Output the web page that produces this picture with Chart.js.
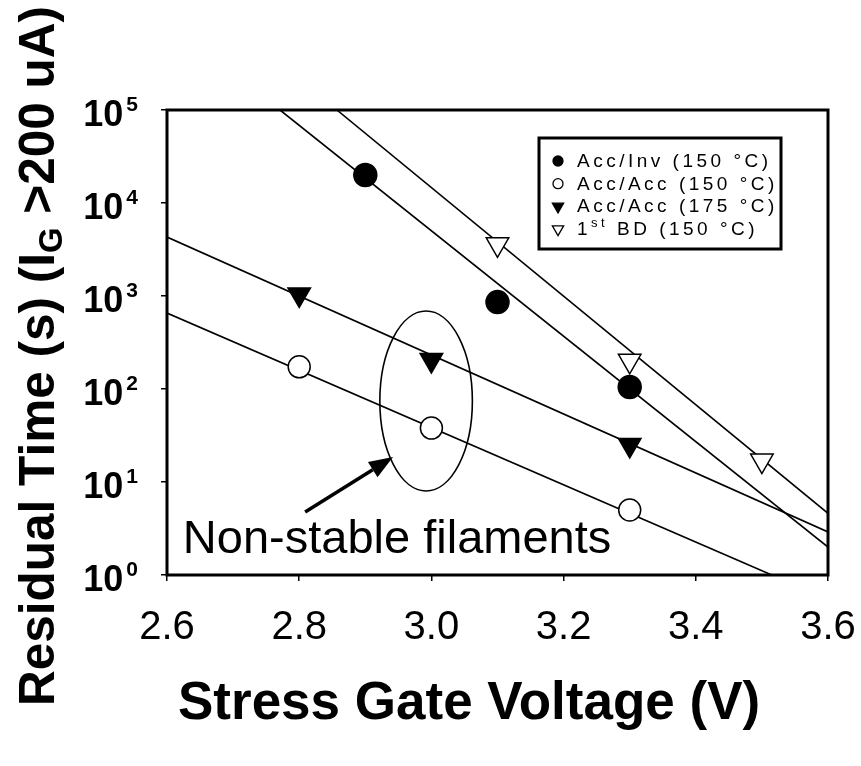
<!DOCTYPE html>
<html>
<head>
<meta charset="utf-8">
<script src="https://cdn.jsdelivr.net/npm/chart.js@4/dist/chart.umd.min.js"></script>
<style>
  html, body { margin: 0; padding: 0; background: #ffffff; }
  canvas { display: block; }
</style>
</head>
<body>
<canvas id="chart" width="861" height="766"></canvas>
<script>
// Residual time (s) versus stress gate voltage (V) for each stress condition
const accInvVolts = [2.9, 3.1, 3.3];
const accInvTimes = [20000, 860, 105];

const accAcc150Volts = [2.8, 3.0, 3.3];
const accAcc150Times = [173, 38, 5];

const accAcc175Volts = [2.8, 3.0, 3.3];
const accAcc175Times = [1040, 205, 25];

const firstBdVolts = [3.1, 3.3, 3.5];
const firstBdTimes = [3600, 201, 17];

// End points of the straight-line fits on the log axis
const fitAccInvVolts = [2.771, 3.6];
const fitAccInvTimes = [100000, 2.0];

const fitAccAcc150Volts = [2.6, 3.515];
const fitAccAcc150Times = [656, 1];

const fitAccAcc175Volts = [2.6, 3.6];
const fitAccAcc175Times = [4300, 2.9];

const fitFirstBdVolts = [2.857, 3.6];
const fitFirstBdTimes = [100000, 4.6];

// Axis ticks
const xTickLabels = ['2.6', '2.8', '3.0', '3.2', '3.4', '3.6'];
const yTickValues = [1, 10, 100, 1000, 10000, 100000];
const yTickExponents = ['0', '1', '2', '3', '4', '5'];

// Legend entries
const seriesNames = ['Acc/Inv (150 °C)', 'Acc/Acc (150 °C)', 'Acc/Acc (175 °C)', '1st BD (150 °C)'];

// Callout around the 3.0 V points (data units)
const calloutEllipse = { xMin: 2.922, xMax: 3.062, yMin: 8, yMax: 690 };
const calloutArrow = { fromX: 2.809, fromY: 4.75, toX: 2.942, toY: 18.6 };
const calloutText = { x: 2.624, y: 1.73, text: 'Non-stable filaments' };

const FONT = '"Liberation Sans", Arial, Helvetica, sans-serif';

const pairs = (xs, ys) => xs.map((v, i) => ({ x: v, y: ys[i] }));

const markerStyles = [
  { pointStyle: 'circle', radius: 11.5, fill: '#000', rot: 0 },
  { pointStyle: 'circle', radius: 11, fill: '#fff', rot: 0 },
  { pointStyle: 'triangle', radius: 13, fill: '#000', rot: 180 },
  { pointStyle: 'triangle', radius: 13, fill: '#fff', rot: 180 }
];

function pointSet(name, xs, ys, m) {
  return {
    label: name,
    data: pairs(xs, ys),
    showLine: false,
    pointStyle: m.pointStyle,
    pointRadius: m.radius,
    pointHoverRadius: m.radius,
    pointRotation: m.rot,
    pointBackgroundColor: m.fill,
    pointBorderColor: '#000',
    pointBorderWidth: 1.5,
    order: 1
  };
}

function fitSet(xs, ys) {
  return {
    label: '',
    data: pairs(xs, ys),
    showLine: true,
    borderColor: '#000',
    borderWidth: 1.6,
    pointRadius: 0,
    fill: false,
    order: 2
  };
}

function drawMarker(ctx, m, cx, cy, r) {
  ctx.beginPath();
  if (m.pointStyle === 'circle') {
    ctx.arc(cx, cy, r, 0, Math.PI * 2);
  } else {
    // downward pointing triangle
    ctx.moveTo(cx, cy + r);
    ctx.lineTo(cx - r * 0.866, cy - r * 0.5);
    ctx.lineTo(cx + r * 0.866, cy - r * 0.5);
    ctx.closePath();
  }
  ctx.fillStyle = m.fill;
  ctx.fill();
  ctx.lineWidth = 1.3;
  ctx.strokeStyle = '#000';
  ctx.stroke();
}

// Draws text pieces in sequence; pieces may be raised or lowered
function drawRuns(ctx, runs, x, y) {
  let cx = x;
  for (const r of runs) {
    ctx.font = r.font;
    ctx.fillText(r.text, cx, y + (r.dy || 0));
    cx += ctx.measureText(r.text).width;
  }
  return cx;
}

const decorations = {
  id: 'decorations',
  afterDraw(chart) {
    const { ctx, chartArea: a, scales } = chart;
    const xs = scales.x, ys = scales.y;
    ctx.save();

    // plot frame
    ctx.strokeStyle = '#000';
    ctx.lineWidth = 3;
    ctx.strokeRect(a.left, a.top, a.right - a.left, a.bottom - a.top);

    // y tick labels: 10 with superscript exponent
    ctx.fillStyle = '#000';
    ctx.textBaseline = 'alphabetic';
    ctx.textAlign = 'left';
    yTickValues.forEach((v, i) => {
      const py = ys.getPixelForValue(v);
      const base = 'bold 36px ' + FONT;
      const sup = 'bold 21px ' + FONT;
      ctx.font = base;
      const w1 = ctx.measureText('10').width;
      ctx.font = sup;
      const w2 = ctx.measureText(yTickExponents[i]).width;
      const right = a.left - 29;
      const left = right - w1 - 3 - w2;
      ctx.font = base;
      ctx.fillText('10', left, py + 16);
      ctx.font = sup;
      ctx.fillText(yTickExponents[i], left + w1 + 3, py + 1);
    });

    // y axis title, rotated, with subscript G
    ctx.save();
    ctx.translate(54, 706);
    ctx.rotate(-Math.PI / 2);
    const big = 'bold 49.5px ' + FONT;
    const small = 'bold 33px ' + FONT;
    drawRuns(ctx, [
      { text: 'Residual Time (s) (I', font: big },
      { text: 'G', font: small, dy: 8 },
      { text: ' >200 uA)', font: big }
    ], 0, 0);
    ctx.restore();

    // x axis title
    ctx.font = 'bold 53px ' + FONT;
    ctx.textAlign = 'left';
    ctx.fillText('Stress Gate Voltage (V)', 178, 719);

    // ellipse around the 3.0 V points
    const ex0 = xs.getPixelForValue(calloutEllipse.xMin);
    const ex1 = xs.getPixelForValue(calloutEllipse.xMax);
    const ey0 = ys.getPixelForValue(calloutEllipse.yMax);
    const ey1 = ys.getPixelForValue(calloutEllipse.yMin);
    ctx.beginPath();
    ctx.ellipse((ex0 + ex1) / 2, (ey0 + ey1) / 2, (ex1 - ex0) / 2, (ey1 - ey0) / 2, 0, 0, Math.PI * 2);
    ctx.lineWidth = 1.6;
    ctx.stroke();

    // arrow pointing at the ellipse
    const ax0 = xs.getPixelForValue(calloutArrow.fromX);
    const ay0 = ys.getPixelForValue(calloutArrow.fromY);
    const ax1 = xs.getPixelForValue(calloutArrow.toX);
    const ay1 = ys.getPixelForValue(calloutArrow.toY);
    const ang = Math.atan2(ay1 - ay0, ax1 - ax0);
    const headLen = 24, headHalf = 9;
    const bx = ax1 - Math.cos(ang) * headLen;
    const by = ay1 - Math.sin(ang) * headLen;
    ctx.beginPath();
    ctx.moveTo(ax0, ay0);
    ctx.lineTo(bx, by);
    ctx.lineWidth = 3.5;
    ctx.stroke();
    ctx.beginPath();
    ctx.moveTo(ax1, ay1);
    ctx.lineTo(bx + Math.sin(ang) * headHalf, by - Math.cos(ang) * headHalf);
    ctx.lineTo(bx - Math.sin(ang) * headHalf, by + Math.cos(ang) * headHalf);
    ctx.closePath();
    ctx.fill();

    // callout text
    ctx.font = '47px ' + FONT;
    ctx.textAlign = 'left';
    ctx.fillText(calloutText.text,
      xs.getPixelForValue(calloutText.x), ys.getPixelForValue(calloutText.y));

    // legend box
    const lx = 539, ly = 138, lw = 242, lh = 111;
    ctx.fillStyle = '#fff';
    ctx.fillRect(lx, ly, lw, lh);
    ctx.lineWidth = 3;
    ctx.strokeStyle = '#000';
    ctx.strokeRect(lx, ly, lw, lh);
    ctx.fillStyle = '#000';
    const legFont = '19px ' + FONT;
    const legSup = '13px ' + FONT;
    if ('letterSpacing' in ctx) ctx.letterSpacing = '3.5px';
    seriesNames.forEach((name, i) => {
      const base = 167 + i * 22.7;
      const m = markerStyles[i];
      drawMarker(ctx, m, 558, base - 6, m.pointStyle === 'circle' ? 5 : 6.5);
      ctx.fillStyle = '#000';
      if (name.startsWith('1st')) {
        drawRuns(ctx, [
          { text: '1', font: legFont },
          { text: 'st', font: legSup, dy: -8 },
          { text: name.slice(3), font: legFont }
        ], 577, base);
      } else {
        ctx.font = legFont;
        ctx.fillText(name, 577, base);
      }
    });
    if ('letterSpacing' in ctx) ctx.letterSpacing = '0px';

    ctx.restore();
  }
};

new Chart(document.getElementById('chart'), {
  type: 'scatter',
  data: {
    datasets: [
      pointSet(seriesNames[0], accInvVolts, accInvTimes, markerStyles[0]),
      pointSet(seriesNames[1], accAcc150Volts, accAcc150Times, markerStyles[1]),
      pointSet(seriesNames[2], accAcc175Volts, accAcc175Times, markerStyles[2]),
      pointSet(seriesNames[3], firstBdVolts, firstBdTimes, markerStyles[3]),
      fitSet(fitAccInvVolts, fitAccInvTimes),
      fitSet(fitAccAcc150Volts, fitAccAcc150Times),
      fitSet(fitAccAcc175Volts, fitAccAcc175Times),
      fitSet(fitFirstBdVolts, fitFirstBdTimes)
    ]
  },
  options: {
    responsive: false,
    animation: false,
    layout: { padding: { left: 161, top: 110, right: 33, bottom: 91 } },
    plugins: {
      legend: { display: false },
      tooltip: { enabled: false }
    },
    scales: {
      x: {
        type: 'linear',
        min: 2.6,
        max: 3.6,
        ticks: {
          stepSize: 0.2,
          color: '#000',
          padding: 3,
          font: { family: FONT, size: 40, lineHeight: 2.2 },
          callback: (v, i) => xTickLabels[i]
        },
        grid: { drawOnChartArea: false, drawTicks: true, tickLength: 6, color: '#000', lineWidth: 1.5 },
        border: { display: false }
      },
      y: {
        type: 'logarithmic',
        min: 1,
        max: 100000,
        afterBuildTicks: (scale) => { scale.ticks = yTickValues.map(v => ({ value: v })); },
        ticks: { display: false },
        grid: { drawOnChartArea: false, drawTicks: true, tickLength: 6, color: '#000', lineWidth: 1.5 },
        border: { display: false }
      }
    }
  },
  plugins: [decorations]
});
</script>
</body>
</html>
